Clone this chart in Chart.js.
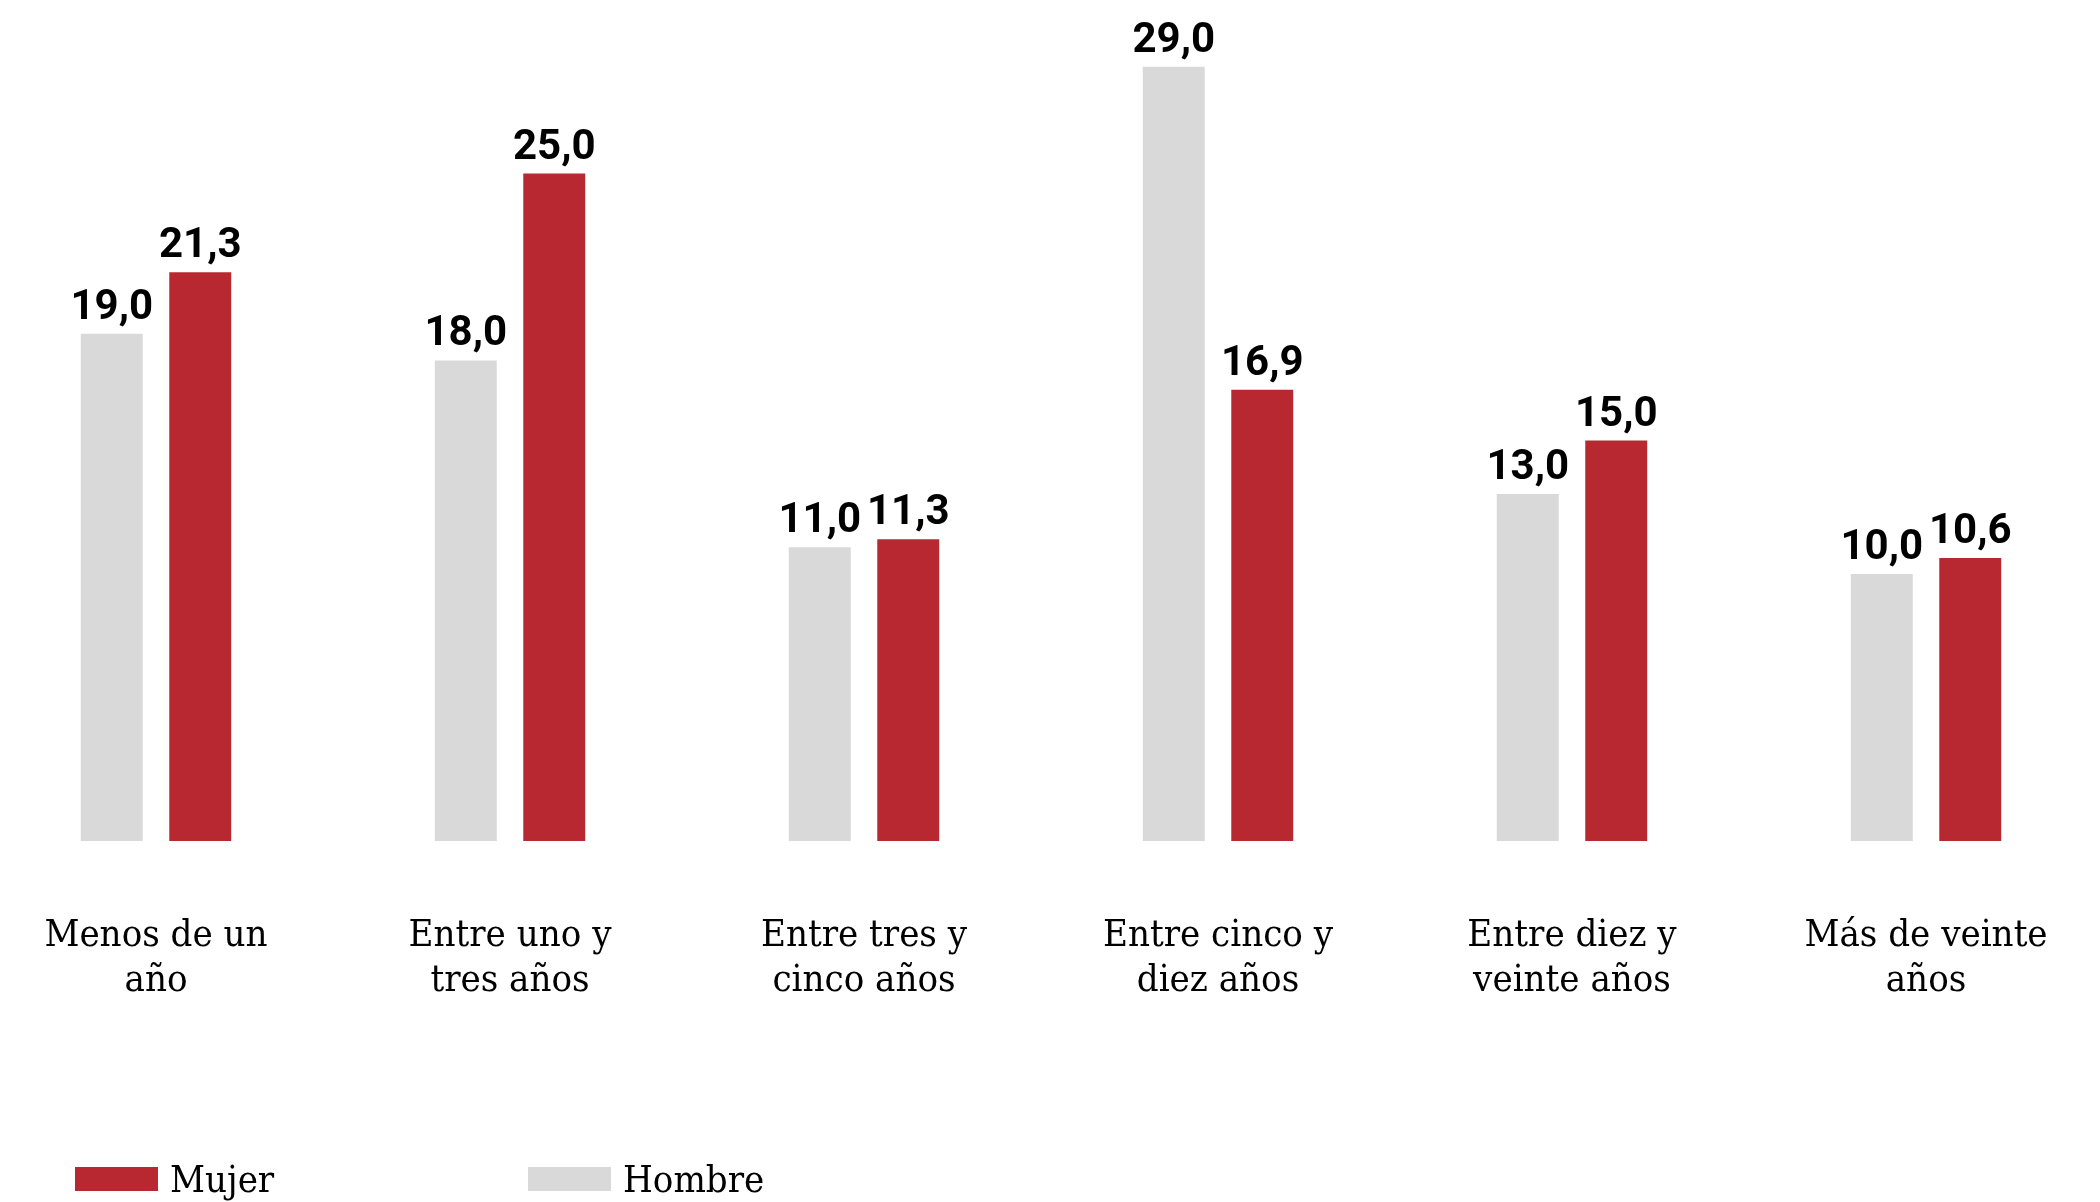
<!DOCTYPE html>
<html>
<head>
<meta charset="utf-8">
<script src="https://cdn.jsdelivr.net/npm/chart.js@4"></script>
<style>
  html, body { margin: 0; padding: 0; background: #fff; overflow: hidden; }
  body { width: 2100px; height: 1202px; position: relative; }
  #wrap { position: absolute; left: -21px; top: 0; width: 2124px; height: 1202px; }
  .legend { position: absolute; top: 1157px; font-family: "DejaVu Serif Condensed", "DejaVu Serif", serif; font-size: 38px; color: #000; display: flex; align-items: center; }
  .legend span.sw { display: inline-block; width: 83px; height: 24px; margin-right: 12px; }
</style>
</head>
<body>
<div id="wrap"><canvas id="chart"></canvas></div>
<div class="legend" style="left:75px"><span class="sw" style="background:#b72830"></span>Mujer</div>
<div class="legend" style="left:528px"><span class="sw" style="background:#d9d9d9"></span>Hombre</div>
<script>
var categories = [
  ['Menos de un', 'año'],
  ['Entre uno y', 'tres años'],
  ['Entre tres y', 'cinco años'],
  ['Entre cinco y', 'diez años'],
  ['Entre diez y', 'veinte años'],
  ['Más de veinte', 'años']
];
var hombre = [19.0, 18.0, 11.0, 29.0, 13.0, 10.0];
var mujer = [21.3, 25.0, 11.3, 16.9, 15.0, 10.6];

// value labels above each bar
var valueLabels = {
  id: 'valueLabels',
  afterDatasetsDraw: function(chart) {
    var ctx = chart.ctx;
    ctx.save();
    ctx.font = 'bold 42px Roboto';
    ctx.fillStyle = '#000';
    ctx.textAlign = 'center';
    ctx.textBaseline = 'alphabetic';
    chart.data.datasets.forEach(function(ds, i) {
      chart.getDatasetMeta(i).data.forEach(function(bar, j) {
        var txt = ds.data[j].toFixed(1).replace('.', ',');
        ctx.fillText(txt, bar.x, bar.y - 15);
      });
    });
    ctx.restore();
  }
};

var ctx = document.getElementById('chart').getContext('2d');
var chart = new Chart(ctx, {
  type: 'bar',
  data: {
    labels: categories,
    datasets: [{
      label: 'Hombre',
      data: hombre,
      backgroundColor: '#d9d9d9',
      categoryPercentage: 0.5,
      barPercentage: 0.7
    }, {
      label: 'Mujer',
      data: mujer,
      backgroundColor: '#b72830',
      categoryPercentage: 0.5,
      barPercentage: 0.7
    }]
  },
  options: {
    responsive: true,
    maintainAspectRatio: false,
    animation: false,
    layout: { padding: 0 },
    plugins: {
      legend: { display: false },
      tooltip: { enabled: false }
    },
    scales: {
      x: {
        grid: { display: false, drawTicks: true, tickLength: 72 },
        border: { display: false },
        ticks: {
          color: '#000',
          padding: 0,
          maxRotation: 0,
          autoSkip: false,
          font: { family: '"DejaVu Serif Condensed", "DejaVu Serif", serif', size: 38, lineHeight: 1.2 }
        },
        afterFit: function(scale) { scale.height = 1202 - 841; }
      },
      y: {
        display: false,
        min: 0,
        max: 31.5
      }
    }
  },
  plugins: [valueLabels]
});
</script>
</body>
</html>
